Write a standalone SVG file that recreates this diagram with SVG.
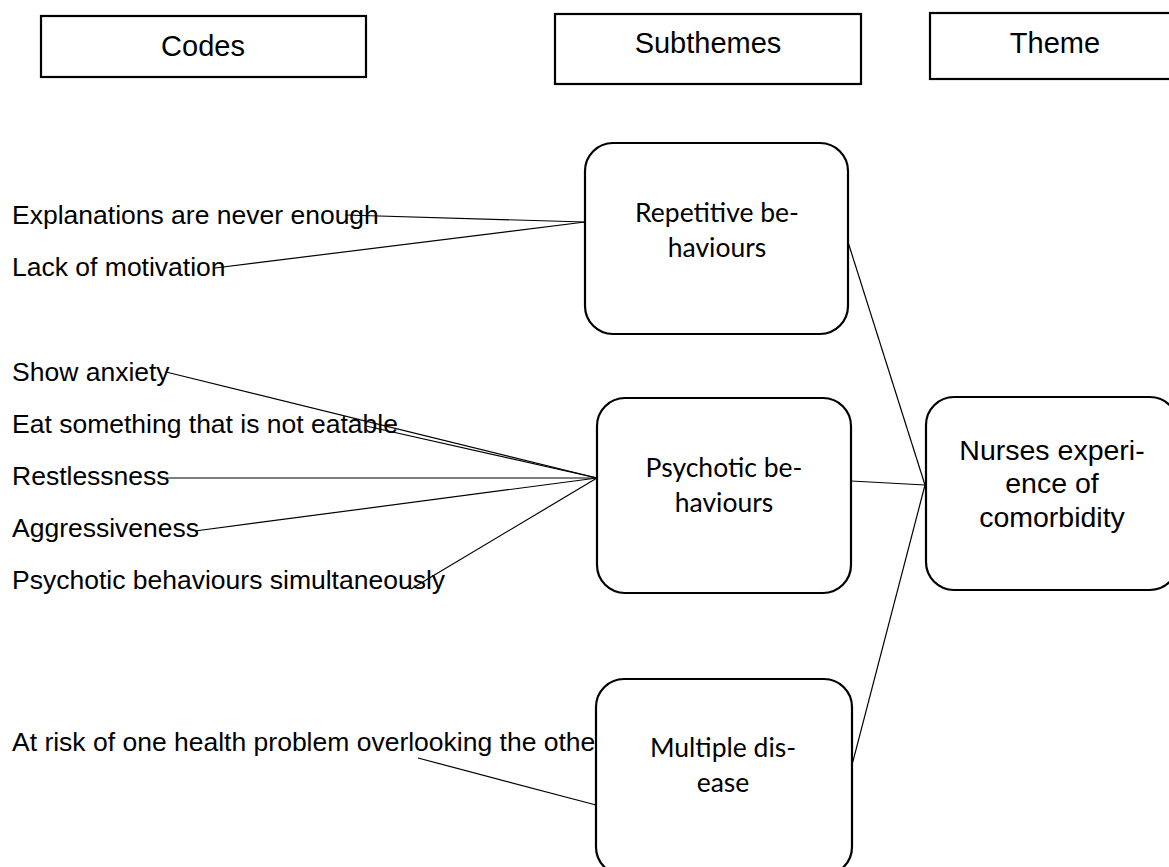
<svg xmlns="http://www.w3.org/2000/svg" width="1169" height="867" viewBox="0 0 1169 867">
<style>
.hdr{fill:#fff;stroke:#000;stroke-width:2.2}
.node{fill:#fff;stroke:#000;stroke-width:2.2}
.ht{font-family:"Liberation Sans",Arial,sans-serif;font-size:29px;fill:#000;text-anchor:middle}
.code{font-family:"Liberation Sans",Arial,sans-serif;font-size:26.5px;fill:#000}
.st{font-family:Lato,"Open Sans",sans-serif;font-size:26.5px;fill:#000;text-anchor:middle}
.th{font-family:"Liberation Sans",Arial,sans-serif;font-size:28.5px;fill:#000;text-anchor:middle}
.conn line{stroke:#000;stroke-width:1.2;fill:none}
</style>
<rect width="1169" height="867" fill="#fff"/>

<g id="hdr-codes"><rect class="hdr" x="41" y="16" width="325" height="61"/><text class="ht" x="203" y="56">Codes</text></g>
<g id="hdr-subthemes"><rect class="hdr" x="555" y="14" width="306" height="70"/><text class="ht" x="708" y="53">Subthemes</text></g>
<g id="hdr-theme"><rect class="hdr" x="930" y="13" width="250" height="66"/><text class="ht" x="1055" y="53">Theme</text></g>

<g id="codes">
<text class="code" x="12" y="224">Explanations are never enough</text>
<text class="code" x="12" y="276">Lack of motivation</text>
<text class="code" x="12" y="381">Show anxiety</text>
<text class="code" x="12" y="433">Eat something that is not eatable</text>
<text class="code" x="12" y="485">Restlessness</text>
<text class="code" x="12" y="537">Aggressiveness</text>
<text class="code" x="12" y="589">Psychotic behaviours simultaneously</text>
<text class="code" x="12" y="751">At risk of one health problem overlooking the othe</text>
</g>

<g class="conn" id="connectors">
<line x1="345" y1="215" x2="585" y2="222"/>
<line x1="215" y1="268" x2="585" y2="222"/>
<line x1="166" y1="372" x2="597" y2="478"/>
<line x1="366" y1="426" x2="597" y2="478"/>
<line x1="166" y1="478" x2="597" y2="478"/>
<line x1="195" y1="531" x2="597" y2="478"/>
<line x1="411" y1="589" x2="597" y2="478"/>
<line x1="418" y1="758" x2="596" y2="805"/>
<line x1="848" y1="242" x2="925" y2="485"/>
<line x1="851" y1="481" x2="925" y2="485"/>
<line x1="852" y1="765" x2="925" y2="485"/>
</g>

<g id="node-repetitive"><rect class="node" x="585" y="143" width="263" height="191" rx="28"/><text class="st" x="717" y="222">Repetitive be-</text><text class="st" x="717" y="257">haviours</text></g>
<g id="node-psychotic"><rect class="node" x="597" y="398" width="254" height="195" rx="28"/><text class="st" x="724" y="477">Psychotic be-</text><text class="st" x="724" y="512">haviours</text></g>
<g id="node-multiple"><rect class="node" x="596" y="679" width="256" height="196" rx="28"/><text class="st" x="723" y="757">Multiple dis-</text><text class="st" x="723" y="792">ease</text></g>
<g id="node-nurses"><rect class="node" x="926" y="397" width="252" height="193" rx="28"/><text class="th" x="1052" y="460">Nurses experi-</text><text class="th" x="1052" y="493">ence of</text><text class="th" x="1052" y="527">comorbidity</text></g>
</svg>
